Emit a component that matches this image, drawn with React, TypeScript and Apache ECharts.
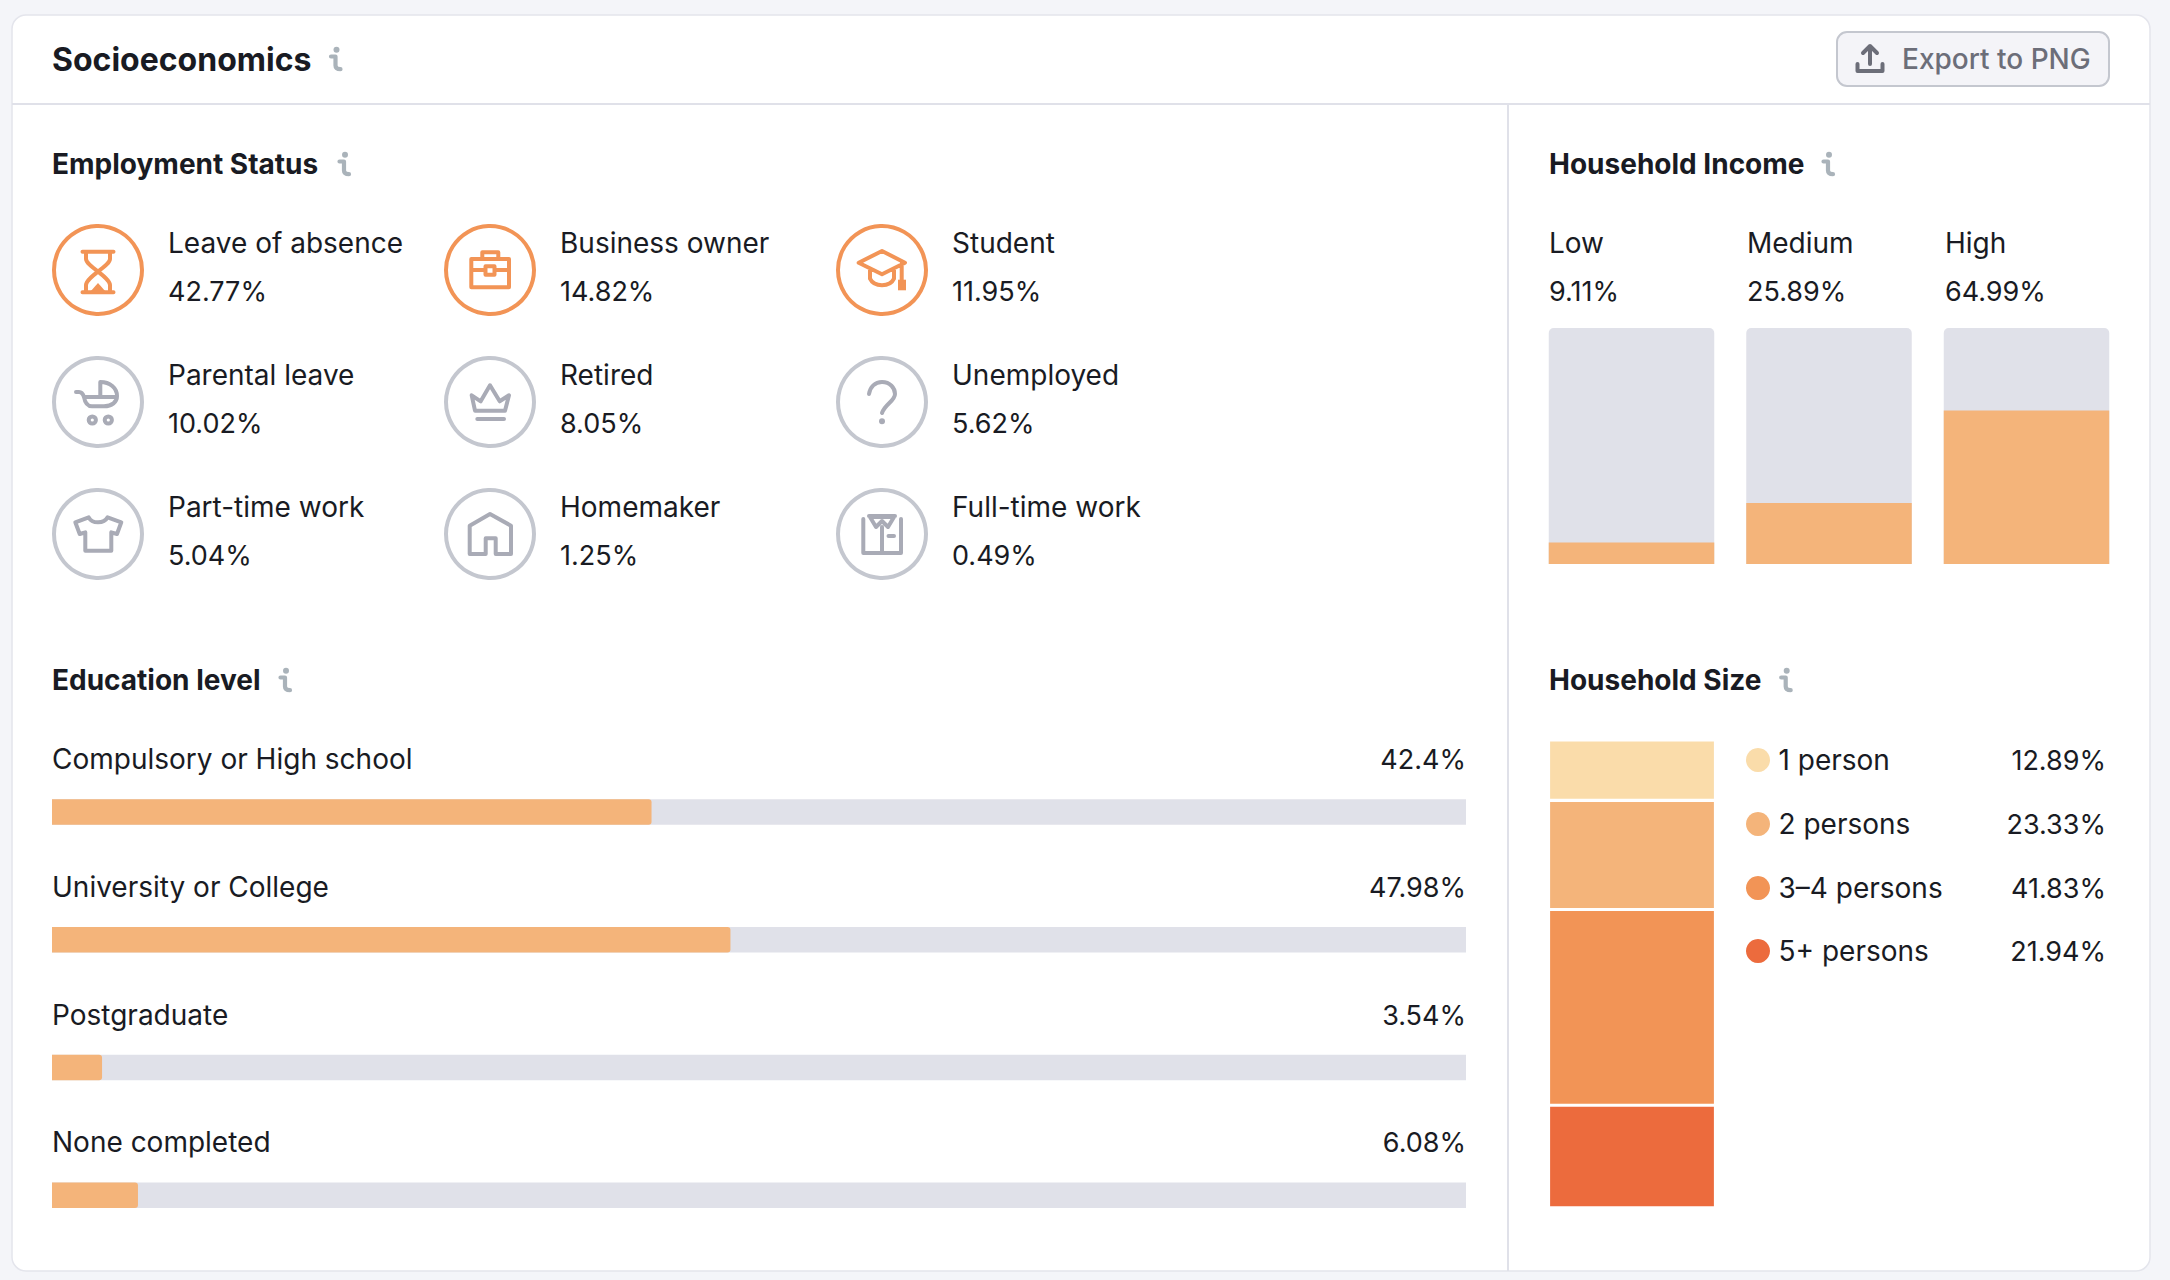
import React, { useEffect, useRef } from "react";
import * as echarts from "echarts";

const employmentNames = ["Leave of absence", "Business owner", "Student", "Parental leave", "Retired", "Unemployed", "Part-time work", "Homemaker", "Full-time work"];
const employmentValues = [42.77, 14.82, 11.95, 10.02, 8.05, 5.62, 5.04, 1.25, 0.49];
const employmentIcons = ["hourglass", "briefcase", "cap", "stroller", "crown", "question", "tshirt", "house", "shirt"];

const educationNames = ["Compulsory or High school", "University or College", "Postgraduate", "None completed"];
const educationValues = [42.4, 47.98, 3.54, 6.08];
const educationLabels = ["42.4%", "47.98%", "3.54%", "6.08%"];

const incomeNames = ["Low", "Medium", "High"];
const incomeValues = [9.11, 25.89, 64.99];

const sizeNames = ["1 person", "2 persons", "3\u20134 persons", "5+ persons"];
const sizeValues = [12.89, 23.33, 41.83, 21.94];
const sizeColors = ["#fadcaa", "#f4b47a", "#f29456", "#ec6b3d"];

const FONT = "Inter";
const DARK = "#191b23";
const ORANGE = "#f29456";
const BAR = "#f4b47a";
const TRACK = "#e0e1e9";
const RING_GREY = "#c4c7cf";
const ICON_GREY = "#a9abb6";
const PCT = 27;

const circ = (x: number, y: number, r: number) => `M${x + r} ${y}A${r} ${r} 0 1 1 ${x - r} ${y}A${r} ${r} 0 1 1 ${x + r} ${y}Z`;

const iconPaths: Record<string, string> = {
  hourglass: "M-15.5 -18.3H15.5M-15.5 22.3H15.5M-12 -18V-11C-12 -4 12 7 12 15V22M12 -18V-11C12 -4 -12 7 -12 15V22",
  briefcase: "M-18.7 -11H19V17.3H-18.7ZM-7.7 -11V-17.7H8.3V-11M-18.7 0H-4.5M4.5 0H19M-4.5 -3.7H4.5V4.7H-4.5Z",
  cap: "M-23.3 -7.3L0 -19L23 -7.3L0 4.3ZM-12 -1.3V8.7C-10 13 -5 15.3 0 15.3C5 15.3 10 13 12 8.7V-1.3M19.7 -6.3V10",
  stroller: "M-22 -10H-19C-16 -10 -15 -8 -14 -5C-13 1 -10 4.3 -6 4.3H6C14 4.3 19 0 19 -6C19 -14 12 -20 2.3 -20V-5H-14M19 -5H2.3" + circ(-5.7, 18, 3.6) + circ(10.3, 18, 3.6),
  crown: "M-18.3 -6.7L-9.3 -0.7L0 -16.7L9.7 -0.7L19 -6.7L15 8.7H-15ZM-12.7 17H14",
  question: "M-13 -8C-12 -15 -7 -20 0 -20C8 -20 13 -14 13 -8C13 -1 3 2 0 11",
  tshirt: "M-22.7 -11.7L-9.3 -16.7C-6 -10 6 -10 9.6 -16.7L23.3 -11.7L19 0L13.3 -1.7V16.7H-12.7V-1.7L-18.3 0Z",
  house: "M-20.3 -8.3L0 -20L21 -8.3V20H5.7V4.3H-4.3V20H-20.3Z",
  shirt: "M-18.7 -15V19H19V-15M-13 -18H13M-12 -17L-6 -7L0 -13L6 -7L12 -17ZM0 -7V19M6.5 2H12",
};
const iconFills: Record<string, string> = {
  hourglass: "M0 13L-8 22H8Z",
  cap: "M16 9.7H24V20.3H16Z",
  question: circ(0, 19.3, 3),
};
Object.keys(iconPaths).forEach((k) => echarts.graphic.registerShape("ic_" + k, echarts.graphic.extendPath(iconPaths[k], {})));
Object.keys(iconFills).forEach((k) => echarts.graphic.registerShape("if_" + k, echarts.graphic.extendPath(iconFills[k], {})));
echarts.graphic.registerShape("ic_info", echarts.graphic.extendPath("M-4.5 -2.5H0V6.5C0 9 2 10.2 5 10.2", {}));
echarts.graphic.registerShape("if_info", echarts.graphic.extendPath(circ(1, -9.2, 3), {}));
echarts.graphic.registerShape("ic_export", echarts.graphic.extendPath("M0 -13V5M-7 -6L0 -13L7 -6M-12.5 5V12H12.5V5", {}));

const txt = (text: string, x: number, y: number, opt: any = {}) => ({
  type: "text",
  x,
  y,
  silent: true,
  z: 3,
  style: {
    text,
    fontFamily: FONT,
    fontSize: opt.size ?? 28,
    fontWeight: opt.weight ?? 400,
    fill: opt.color ?? DARK,
    align: opt.align ?? "left",
    verticalAlign: "middle",
  },
});

const stroke = (type: string, x: number, y: number, color: string, lw: number) => ({
  type,
  x,
  y,
  silent: true,
  z: 3,
  style: { fill: "none", stroke: color, lineWidth: lw, lineCap: "round", lineJoin: "round" },
});
const filled = (type: string, x: number, y: number, color: string) => ({
  type,
  x,
  y,
  silent: true,
  z: 3,
  style: { fill: color },
});
const info = (x: number, y: number) => [stroke("ic_info", x, y, "#aab3ba", 4.2), filled("if_info", x, y, "#aab3ba")];

function buildGraphics() {
  const g: any[] = [
    { type: "rect", silent: true, z: 0, shape: { x: 12, y: 15, width: 2138, height: 1256, r: 14 }, style: { fill: "#fff", stroke: "#e4e5ec", lineWidth: 1.5 } },
    { type: "line", silent: true, z: 1, shape: { x1: 12, y1: 104, x2: 2150, y2: 104 }, style: { stroke: "#e0e1e9", lineWidth: 2 } },
    { type: "line", silent: true, z: 1, shape: { x1: 1508, y1: 104, x2: 1508, y2: 1271 }, style: { stroke: "#e0e1e9", lineWidth: 2 } },
    { type: "rect", silent: true, z: 1, shape: { x: 1837, y: 32, width: 272, height: 54, r: 10 }, style: { fill: "#f4f4f8", stroke: "#c4c7cf", lineWidth: 2 } },
    stroke("ic_export", 1870, 59, "#6c6e79", 4),
    txt("Export to PNG", 1902, 59, { color: "#6c6e79", weight: 500 }),
    txt("Socioeconomics", 52, 59, { size: 32, weight: 700 }),
    ...info(335.5, 59),
    txt("Employment Status", 52, 164, { weight: 700 }),
    ...info(344, 164),
    txt("Household Income", 1549, 164, { weight: 700 }),
    ...info(1828, 164),
    txt("Education level", 52, 680, { weight: 700 }),
    ...info(285, 680),
    txt("Household Size", 1549, 680, { weight: 700 }),
    ...info(1785.7, 680),
  ];
  const cx = [98, 490, 882];
  const cy = [270, 402, 534];
  employmentNames.forEach((name, i) => {
    const c = i % 3;
    const r = Math.floor(i / 3);
    const hot = i < 3;
    g.push({ type: "circle", silent: true, z: 3, shape: { cx: cx[c], cy: cy[r], r: 44 }, style: { fill: "#fff", stroke: hot ? ORANGE : RING_GREY, lineWidth: 4 } });
    const ic = employmentIcons[i];
    const color = hot ? ORANGE : ICON_GREY;
    g.push(stroke("ic_" + ic, cx[c], cy[r], color, 4));
    if (iconFills[ic]) g.push(filled("if_" + ic, cx[c], cy[r], color));
    g.push(txt(name, cx[c] + 70, cy[r] - 27));
    g.push(txt(employmentValues[i].toFixed(2) + "%", cx[c] + 70, cy[r] + 21, { size: PCT }));
  });
  const eduY = [759, 887, 1015, 1142];
  educationNames.forEach((name, i) => {
    g.push(txt(name, 52, eduY[i]));
    g.push(txt(educationLabels[i], 1466, eduY[i], { align: "right", size: PCT }));
  });
  const incX = [1549, 1747, 1945];
  incomeNames.forEach((name, i) => {
    g.push(txt(name, incX[i], 243));
    g.push(txt(incomeValues[i].toFixed(2) + "%", incX[i], 291, { size: PCT }));
  });
  const legY = [760, 824, 888, 951];
  sizeNames.forEach((name, i) => {
    g.push({ type: "circle", silent: true, z: 3, shape: { cx: 1758, cy: legY[i], r: 12 }, style: { fill: sizeColors[i] } });
    g.push(txt(name, 1778.5, legY[i]));
    g.push(txt(sizeValues[i].toFixed(2) + "%", 2106, legY[i], { align: "right", size: PCT }));
  });
  return g;
}

function buildOption(): any {
  return {
    animation: false,
    backgroundColor: "#f4f5f9",
    graphic: { elements: buildGraphics() },
    tooltip: { show: false },
    grid: [
      { left: 52, top: 748, width: 1414, height: 511 },
      { left: 1532.75, top: 328, width: 592.5, height: 236 },
      { left: 1548.5, top: 740, width: 167, height: 468 },
    ],
    xAxis: [
      { gridIndex: 0, type: "value", min: 0, max: 100, show: false },
      { gridIndex: 1, type: "category", data: incomeNames, show: false },
      { gridIndex: 2, type: "category", data: ["Household size"], show: false },
    ],
    yAxis: [
      { gridIndex: 0, type: "category", data: educationNames, inverse: true, show: false },
      { gridIndex: 1, type: "value", min: 0, max: 100, show: false },
      { gridIndex: 2, type: "value", min: 0, max: 100, inverse: true, show: false },
    ],
    series: [
      { type: "bar", xAxisIndex: 0, yAxisIndex: 0, barWidth: 25.5, barGap: "-100%", data: educationValues.map(() => 100), itemStyle: { color: TRACK }, silent: true },
      { type: "bar", xAxisIndex: 0, yAxisIndex: 0, barWidth: 25.5, data: educationValues, itemStyle: { color: BAR, borderRadius: [0, 3, 3, 0] }, silent: true },
      { type: "bar", xAxisIndex: 1, yAxisIndex: 1, barWidth: 165.5, barGap: "-100%", data: incomeValues.map(() => 100), itemStyle: { color: TRACK, borderRadius: [5, 5, 0, 0] }, silent: true },
      { type: "bar", xAxisIndex: 1, yAxisIndex: 1, barWidth: 165.5, data: incomeValues, itemStyle: { color: BAR }, silent: true },
      ...sizeNames.map((name, i) => ({
        type: "bar",
        name,
        xAxisIndex: 2,
        yAxisIndex: 2,
        stack: "size",
        barWidth: 167,
        data: [sizeValues[i]],
        itemStyle: { color: sizeColors[i], borderColor: "#fff", borderWidth: 1.6 },
        silent: true,
      })),
    ],
  };
}

export default function App() {
  const ref = useRef<HTMLDivElement>(null);
  useEffect(() => {
    document.body.style.margin = "0";
    const chart = echarts.init(ref.current!, undefined, { renderer: "svg" });
    chart.setOption(buildOption());
    return () => chart.dispose();
  }, []);
  return <div ref={ref} style={{ width: 2170, height: 1280 }} />;
}
